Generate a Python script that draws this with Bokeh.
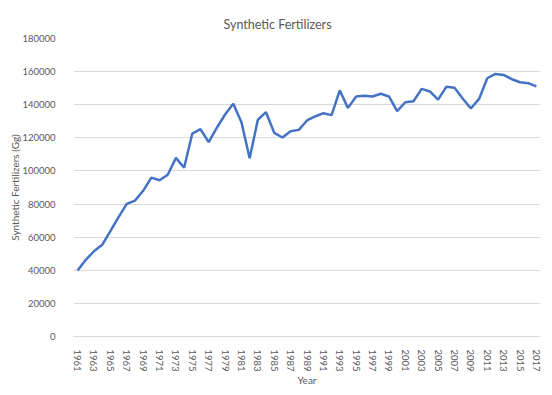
from bokeh.plotting import figure
from bokeh.models import FixedTicker, Range1d, BasicTickFormatter
from bokeh.embed import file_html
from bokeh.resources import INLINE

years = list(range(1961, 2018))
fertilizers = [
    39900, 46300, 51500, 55400, 63600, 72100, 80100, 82100, 88000, 96000,
    94400, 97700, 107900, 101900, 122600, 125200, 117400, 126100, 134100, 140600,
    129400, 107700, 130900, 135500, 123000, 120200, 124000, 124800, 130500, 132900,
    134900, 133700, 148600, 138100, 145000, 145400, 145000, 146600, 145000, 136100,
    141500, 142100, 149600, 148000, 143100, 150800, 150200, 143800, 137700, 143500,
    156000, 158600, 158000, 155400, 153600, 153000, 151100,
]
x_ticks = list(range(1961, 2018, 2))
y_ticks = list(range(0, 180001, 20000))

FONT = "Lato"
TXT = "#595959"
GRID = "#d9d9d9"

p = figure(
    frame_width=467, frame_height=298,
    min_border_left=73, min_border_right=12, min_border_top=38, min_border_bottom=59,
    output_backend="svg", toolbar_location=None,
    title="Synthetic Fertilizers",
    x_range=Range1d(1960.5, 2017.5), y_range=Range1d(0, 180000),
)

p.line(years, fertilizers, line_color="#4472C4", line_width=2.5)

p.title.align = "left"
p.title.offset = 150
p.title.text_font = FONT
p.title.text_font_size = "12.5px"
p.title.text_font_style = "normal"
p.title.text_color = TXT
p.title.standoff = 14

p.outline_line_color = None
p.xgrid.grid_line_color = None
p.ygrid.grid_line_color = GRID
p.ygrid.grid_line_width = 1

p.xaxis.ticker = FixedTicker(ticks=x_ticks)
p.yaxis.ticker = FixedTicker(ticks=y_ticks)
p.yaxis.formatter = BasicTickFormatter(use_scientific=False)

for ax in (p.xaxis[0], p.yaxis[0]):
    ax.major_tick_line_color = None
    ax.minor_tick_line_color = None
    ax.major_label_text_font = FONT
    ax.major_label_text_font_size = "9.5px"
    ax.major_label_text_color = TXT
    ax.axis_label_text_font = FONT
    ax.axis_label_text_font_size = "10px"
    ax.axis_label_text_font_style = "normal"
    ax.axis_label_text_color = TXT

p.xaxis.axis_line_color = GRID
p.yaxis.axis_line_color = None
p.xaxis.major_label_orientation = "vertical"
p.xaxis.major_label_standoff = 7
p.yaxis.major_label_standoff = 12
p.xaxis.axis_label = "Year"
p.yaxis.axis_label = "Synthetic Fertilizers (Gg)"
p.xaxis.axis_label_standoff = -1
p.yaxis.axis_label_standoff = -2

open("out.html", "w").write(file_html(p, INLINE))
